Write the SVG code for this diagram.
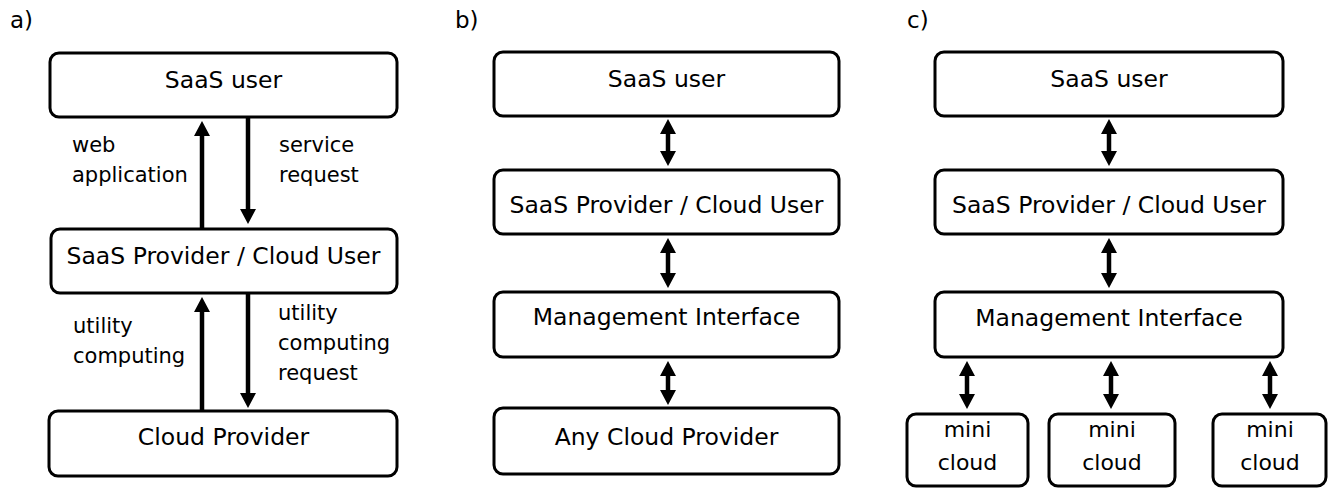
<svg xmlns="http://www.w3.org/2000/svg" width="1328" height="488" viewBox="0 0 1328 488">
<style>
.box{fill:#fff;stroke:#000;stroke-width:3}
.t{font-family:"DejaVu Sans",sans-serif;font-size:23.5px;fill:#000;text-anchor:middle}
.m{font-family:"DejaVu Sans",sans-serif;font-size:22px;fill:#000;text-anchor:middle}
.l{font-family:"DejaVu Sans",sans-serif;font-size:21px;fill:#000}
.p{font-family:"DejaVu Sans",sans-serif;font-size:23px;fill:#000}
.a{stroke:#000;stroke-width:4.5;fill:none}
</style>
<defs>
<marker id="h" viewBox="0 0 16 16" markerWidth="16" markerHeight="16" markerUnits="userSpaceOnUse" refX="1" refY="8" orient="auto-start-reverse">
<path d="M0,0 L15,8 L0,16 z" fill="#000"/>
</marker>
</defs>
<text class="p" x="10" y="28">a)</text>
<text class="p" x="455" y="28">b)</text>
<text class="p" x="907" y="28">c)</text>

<g id="a-saas-user"><rect class="box" x="50" y="53" width="347" height="64" rx="9"/><text class="t" x="223.5" y="88">SaaS user</text></g>
<g id="a-provider"><rect class="box" x="51" y="229" width="346" height="64" rx="9"/><text class="t" x="223.5" y="264">SaaS Provider / Cloud User</text></g>
<g id="a-cloud-provider"><rect class="box" x="49" y="411" width="348" height="65" rx="9"/><text class="t" x="223.5" y="445">Cloud Provider</text></g>
<g id="a-labels">
<text class="l" x="72" y="152">web</text><text class="l" x="72" y="182">application</text>
<text class="l" x="279" y="152">service</text><text class="l" x="279" y="182">request</text>
<text class="l" x="73" y="333">utility</text><text class="l" x="73" y="363">computing</text>
<text class="l" x="278" y="320">utility</text><text class="l" x="278" y="350">computing</text><text class="l" x="278" y="380">request</text>
</g>

<g id="b-saas-user"><rect class="box" x="494" y="52" width="345" height="64" rx="9"/><text class="t" x="666.5" y="87">SaaS user</text></g>
<g id="b-provider"><rect class="box" x="494" y="170" width="345" height="64" rx="9"/><text class="t" x="666.5" y="213">SaaS Provider / Cloud User</text></g>
<g id="b-management"><rect class="box" x="494" y="292" width="345" height="65" rx="9"/><text class="t" x="666.5" y="325">Management Interface</text></g>
<g id="b-any-cloud"><rect class="box" x="494" y="408" width="345" height="66" rx="9"/><text class="t" x="666.5" y="445">Any Cloud Provider</text></g>

<g id="c-saas-user"><rect class="box" x="935" y="52" width="348" height="64" rx="9"/><text class="t" x="1109" y="87">SaaS user</text></g>
<g id="c-provider"><rect class="box" x="935" y="170" width="348" height="64" rx="9"/><text class="t" x="1109" y="213">SaaS Provider / Cloud User</text></g>
<g id="c-management"><rect class="box" x="935" y="292" width="348" height="65" rx="9"/><text class="t" x="1109" y="326">Management Interface</text></g>
<g id="c-mini1"><rect class="box" x="907" y="414" width="121" height="72" rx="9"/><text class="m" x="967.5" y="437">mini</text><text class="m" x="967.5" y="470">cloud</text></g>
<g id="c-mini2"><rect class="box" x="1049" y="414" width="126" height="72" rx="9"/><text class="m" x="1112" y="437">mini</text><text class="m" x="1112" y="470">cloud</text></g>
<g id="c-mini3"><rect class="box" x="1213" y="414" width="113" height="72" rx="9"/><text class="m" x="1270" y="437">mini</text><text class="m" x="1270" y="470">cloud</text></g>

<g id="connectors">
<line class="a" x1="202" y1="229" x2="202" y2="135" marker-end="url(#h)"/>
<line class="a" x1="248" y1="117" x2="248" y2="210" marker-end="url(#h)"/>
<line class="a" x1="202" y1="411" x2="202" y2="311" marker-end="url(#h)"/>
<line class="a" x1="248" y1="293" x2="248" y2="394" marker-end="url(#h)"/>

<line class="a" x1="668" y1="133" x2="668" y2="152" marker-start="url(#h)" marker-end="url(#h)"/>
<line class="a" x1="668" y1="252" x2="668" y2="274" marker-start="url(#h)" marker-end="url(#h)"/>
<line class="a" x1="668" y1="375" x2="668" y2="391" marker-start="url(#h)" marker-end="url(#h)"/>

<line class="a" x1="1109" y1="133" x2="1109" y2="152" marker-start="url(#h)" marker-end="url(#h)"/>
<line class="a" x1="1109" y1="252" x2="1109" y2="274" marker-start="url(#h)" marker-end="url(#h)"/>
<line class="a" x1="967" y1="375" x2="967" y2="395" marker-start="url(#h)" marker-end="url(#h)"/>
<line class="a" x1="1111" y1="375" x2="1111" y2="395" marker-start="url(#h)" marker-end="url(#h)"/>
<line class="a" x1="1270" y1="375" x2="1270" y2="395" marker-start="url(#h)" marker-end="url(#h)"/>
</g>
</svg>
